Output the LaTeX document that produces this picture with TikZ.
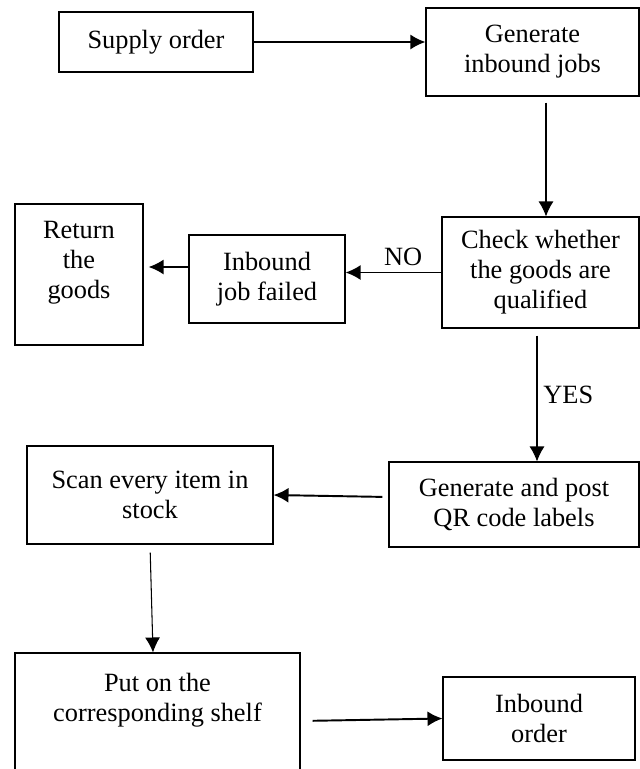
\documentclass[tikz,border=0pt]{standalone}
\usepackage{fontspec}
\setmainfont{Liberation Serif}
\usetikzlibrary{arrows.meta,positioning}

\begin{document}
\begin{tikzpicture}[
            block/.style={draw, line width=0.6pt, align=center, inner sep=2pt, font=\fontsize{15}{17}\selectfont},
            lbl/.style={font=\fontsize{15}{17}\selectfont},
            arrow/.style={-{Latex[length=0.3cm,width=0.3cm]}, line width=1.1pt},
            thinarrow/.style={-{Latex[length=0.3cm,width=0.3cm]}, line width=0.6pt}
        ]
        \useasboundingbox (0,0) rectangle (12.8,-15.38);

        \node[block, minimum width=3.88cm, minimum height=1.2cm] (supply) at (3.12,-0.84) {Supply order};

        \node[block, minimum width=4.26cm, minimum height=1.76cm] (genjobs) at (10.65,-1.04) {Generate\\inbound jobs};

        \node[block, minimum width=3.94cm, minimum height=2.22cm] (check) at (10.81,-5.45) {Check whether\\the goods are\\qualified};

        \node[block, minimum width=3.12cm, minimum height=1.76cm] (failed) at (5.34,-5.58) {Inbound\\job failed};

        \node[block, minimum width=2.56cm, minimum height=2.82cm] (return) at (1.58,-5.49) {Return\\the\\goods\\\mbox{}};

        \node[block, minimum width=5.0cm, minimum height=1.7cm] (qrlabel) at (10.28,-10.09) {Generate and post\\QR code labels};

        \node[block, minimum width=4.92cm, minimum height=1.96cm] (scan) at (3.0,-9.9) {Scan every item in\\stock};

        \node[block, minimum width=5.7cm, minimum height=2.38cm] (shelf) at (3.15,-14.25) {Put on the\\corresponding shelf\\\mbox{}};

        \node[block, minimum width=3.84cm, minimum height=1.66cm] (order) at (10.78,-14.37) {Inbound\\order};

        % Main data flow
        \draw[arrow] (supply.east) -- (genjobs.west |- supply.east);
        \draw[thinarrow, shorten <=0.12cm] ([xshift=0.27cm]genjobs.south) -- ([xshift=0.27cm]genjobs.south |- check.north);
        \draw[arrow] (check.west) -- node[lbl, pos=0.4, above] {NO} (check.west -| failed.east);
        \draw[arrow, shorten >=0.1cm] ([yshift=0.24cm]failed.west) -- ([yshift=0.24cm]failed.west -| return.east);
        \draw[thinarrow, shorten <=0.14cm] ([xshift=-0.07cm]check.south) -- node[lbl, right] {YES} ([xshift=-0.07cm]check.south |- qrlabel.north);
        \draw[arrow, shorten <=0.12cm] ([yshift=0.15cm]qrlabel.west) -- (scan.east);
        \draw[thinarrow, shorten <=0.16cm] (scan.south) -- ([xshift=-0.09cm]shelf.north);
        \draw[arrow, shorten <=0.24cm] ([yshift=-0.17cm]shelf.east) -- (order.west);

    \end{tikzpicture}
\end{document}
